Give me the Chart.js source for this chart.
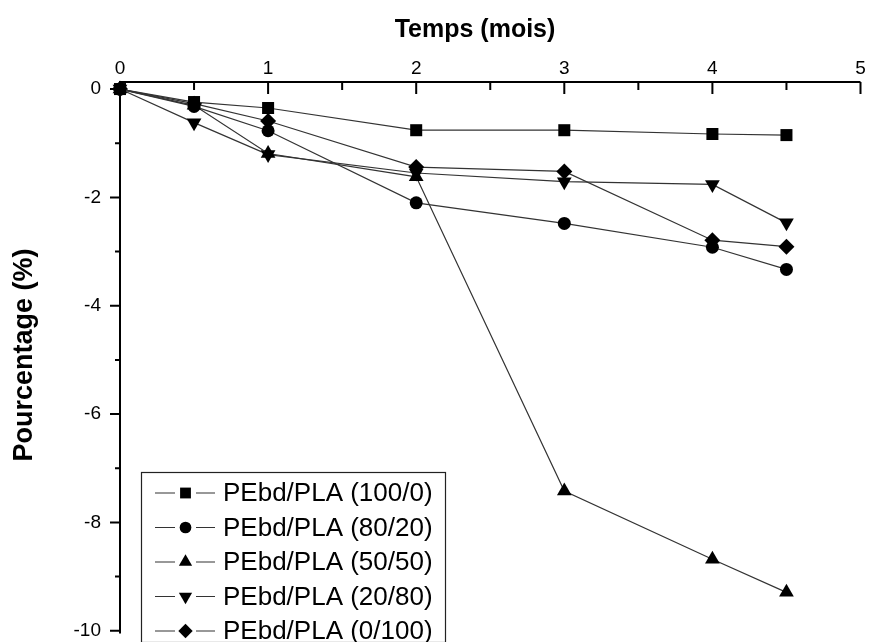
<!DOCTYPE html>
<html>
<head>
<meta charset="utf-8">
<script src="https://cdn.jsdelivr.net/npm/chart.js@4.4.1/dist/chart.umd.min.js"></script>
<style>
  html, body { margin: 0; padding: 0; background: #fff; }
  #wrap { width: 869px; height: 642px; }
</style>
</head>
<body>
<div id="wrap"><canvas id="myChart" width="869" height="642"></canvas></div>
<script>
// valeurs
const mois = [0, 0.5, 1, 2, 3, 4, 4.5];
const pe100_0 = [0, -0.24, -0.35, -0.76, -0.76, -0.83, -0.85];
const pe80_20 = [0, -0.32, -0.77, -2.10, -2.48, -2.92, -3.33];
const pe50_50 = [0, -0.30, -1.19, -1.62, -7.42, -8.68, -9.29];
const pe20_80 = [0, -0.62, -1.21, -1.55, -1.71, -1.76, -2.47];
const pe0_100 = [0, -0.27, -0.59, -1.44, -1.52, -2.79, -2.91];

const labels = ['PEbd/PLA (100/0)', 'PEbd/PLA (80/20)', 'PEbd/PLA (50/50)', 'PEbd/PLA (20/80)', 'PEbd/PLA (0/100)'];
const xTicks = [0, 1, 2, 3, 4, 5];
const xMinor = [0.5, 1.5, 2.5, 3.5, 4.5];
const yTicks = [0, -2, -4, -6, -8, -10];
const yMinor = [-1, -3, -5, -7, -9];

const FONT = '"Liberation Sans", Arial, sans-serif';

function serie(vals) {
    return vals.map((v, i) => ({ x: mois[i], y: v }));
}

const styles = [
    { pointStyle: 'rect', radius: 8.5, rotation: 0 },
    { pointStyle: 'circle', radius: 6.5, rotation: 0 },
    { pointStyle: 'triangle', radius: 8.5, rotation: 0 },
    { pointStyle: 'triangle', radius: 8.5, rotation: 180 },
    { pointStyle: 'rectRot', radius: 8, rotation: 0 }
];

const allData = [pe100_0, pe80_20, pe50_50, pe20_80, pe0_100];

const datasets = allData.map((d, i) => ({
    label: labels[i],
    data: serie(d),
    borderColor: '#333',
    borderWidth: 1.2,
    backgroundColor: '#000',
    pointBackgroundColor: '#000',
    pointBorderColor: '#000',
    pointBorderWidth: 0,
    pointStyle: styles[i].pointStyle,
    pointRadius: styles[i].radius,
    pointRotation: styles[i].rotation,
    tension: 0,
    clip: false
}));

/* axes, graduations, titres et legende dessines a la main */
const decor = {
    id: 'decor',
    afterDatasetsDraw(chart) {
        const ctx = chart.ctx;
        const xs = chart.scales.x;
        const ys = chart.scales.y;
        const area = chart.chartArea;
        ctx.save();
        ctx.strokeStyle = '#000';
        ctx.lineWidth = 2;
        ctx.beginPath();
        ctx.moveTo(area.left, area.bottom);
        ctx.lineTo(area.left, area.top);
        ctx.lineTo(area.right, area.top);
        ctx.stroke();

        ctx.lineWidth = 2;
        ctx.beginPath();
        xTicks.forEach(v => {
            const px = xs.getPixelForValue(v);
            ctx.moveTo(px, area.top);
            ctx.lineTo(px, area.top + 12);
        });
        xMinor.forEach(v => {
            const px = xs.getPixelForValue(v);
            ctx.moveTo(px, area.top);
            ctx.lineTo(px, area.top + 8);
        });
        yTicks.forEach(v => {
            const py = ys.getPixelForValue(v);
            ctx.moveTo(area.left, py);
            ctx.lineTo(area.left - 10, py);
        });
        yMinor.forEach(v => {
            const py = ys.getPixelForValue(v);
            ctx.moveTo(area.left, py);
            ctx.lineTo(area.left - 5, py);
        });
        ctx.stroke();

        // titres des axes
        ctx.fillStyle = '#000';
        ctx.font = 'bold 25px ' + FONT;
        ctx.textAlign = 'center';
        ctx.textBaseline = 'alphabetic';
        ctx.fillText('Temps (mois)', 475, 37);
        ctx.save();
        ctx.translate(32, 355);
        ctx.rotate(-Math.PI / 2);
        ctx.font = 'bold 27px ' + FONT;
        ctx.fillText('Pourcentage (%)', 0, 0);
        ctx.restore();

        // legende
        const bx = 141, by = 472, bw = 304, bh = 170;
        ctx.fillStyle = '#fff';
        ctx.fillRect(bx, by, bw, bh);
        ctx.strokeStyle = '#222';
        ctx.lineWidth = 1.2;
        ctx.strokeRect(bx + 0.5, by + 0.5, bw, bh);
        ctx.font = '26px ' + FONT;
        ctx.textAlign = 'left';
        ctx.textBaseline = 'middle';
        chart.data.datasets.forEach((ds, i) => {
            const cy = 493 + i * 34.5;
            ctx.strokeStyle = '#333';
            ctx.lineWidth = 1.2;
            ctx.beginPath();
            ctx.moveTo(155, cy);
            ctx.lineTo(175, cy);
            ctx.moveTo(196, cy);
            ctx.lineTo(215, cy);
            ctx.stroke();
            ctx.fillStyle = '#000';
            Chart.helpers.drawPoint(ctx, {
                pointStyle: ds.pointStyle,
                rotation: ds.pointRotation,
                radius: ds.pointRadius * 0.9,
                borderWidth: 0
            }, 185.5, cy);
            ctx.fillStyle = '#000';
            ctx.fillText(ds.label, 223, cy + 1);
        });
        ctx.restore();
    }
};

new Chart(document.getElementById('myChart'), {
    type: 'line',
    data: { datasets: datasets },
    options: {
        responsive: false,
        animation: false,
        layout: { padding: { left: 0, right: 3, top: 0, bottom: 0 } },
        plugins: {
            legend: { display: false },
            tooltip: { enabled: false }
        },
        scales: {
            x: {
                type: 'linear',
                position: 'top',
                min: 0,
                max: 5,
                grid: { display: false },
                border: { display: false },
                ticks: {
                    font: { family: FONT, size: 19 },
                    color: '#000',
                    padding: -6
                },
                afterBuildTicks: s => { s.ticks = xTicks.map(v => ({ value: v })); },
                afterFit: s => { s.height = 82; s.paddingLeft = 0; s.paddingRight = 0; }
            },
            y: {
                type: 'linear',
                min: -10.05,
                max: 0.13,
                grid: { display: false },
                border: { display: false },
                ticks: {
                    font: { family: FONT, size: 19 },
                    color: '#000',
                    padding: 11
                },
                afterBuildTicks: s => { s.ticks = yTicks.map(v => ({ value: v })); },
                afterFit: s => { s.width = 120; s.paddingTop = 0; s.paddingBottom = 0; }
            }
        }
    },
    plugins: [decor]
});
</script>
</body>
</html>
